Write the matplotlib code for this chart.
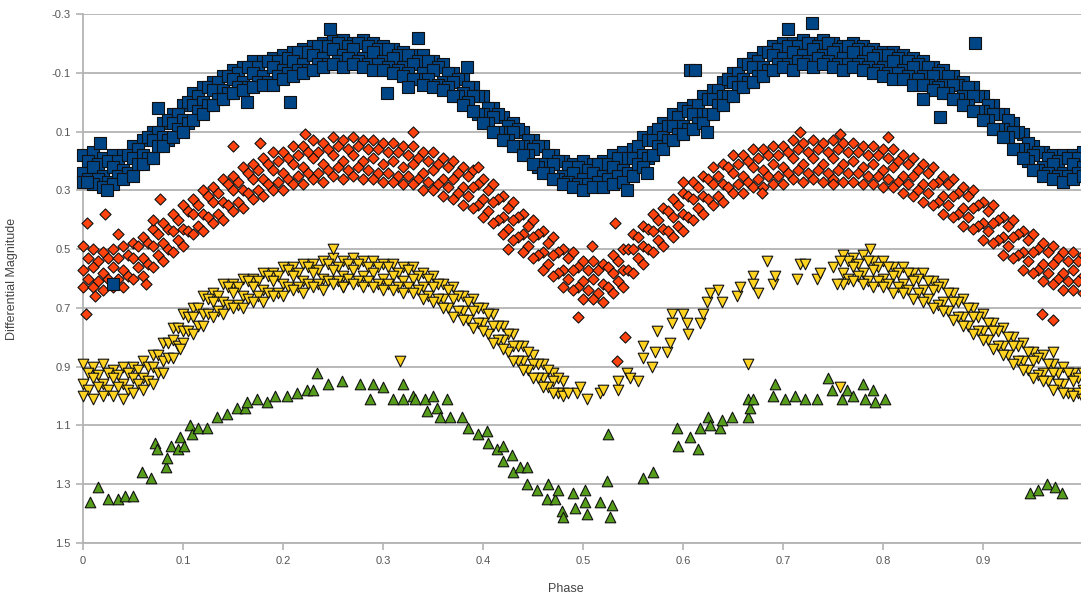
import matplotlib
matplotlib.use("Agg")
import matplotlib.pyplot as plt

plt.rcParams['font.family'] = ['Liberation Sans', 'DejaVu Sans']

# sampling phases used when reading the dense bands off the chart
phase_grid = [0.00, 0.01, 0.02, 0.03, 0.04, 0.05, 0.06, 0.07, 0.08, 0.09,
              0.10, 0.11, 0.12, 0.13, 0.14, 0.15, 0.16, 0.17, 0.18, 0.19,
              0.20, 0.21, 0.22, 0.23, 0.24, 0.25, 0.26, 0.27, 0.28, 0.29,
              0.30, 0.31, 0.32, 0.33, 0.34, 0.35, 0.36, 0.37, 0.38, 0.39,
              0.40, 0.41, 0.42, 0.43, 0.44, 0.45, 0.46, 0.47, 0.48, 0.49,
              0.50, 0.51, 0.52, 0.53, 0.54, 0.55, 0.56, 0.57, 0.58, 0.59,
              0.60, 0.61, 0.62, 0.63, 0.64, 0.65, 0.66, 0.67, 0.68, 0.69,
              0.70, 0.71, 0.72, 0.73, 0.74, 0.75, 0.76, 0.77, 0.78, 0.79,
              0.80, 0.81, 0.82, 0.83, 0.84, 0.85, 0.86, 0.87, 0.88, 0.89,
              0.90, 0.91, 0.92, 0.93, 0.94, 0.95, 0.96, 0.97, 0.98, 0.99,
              1.00]
half_grid = [0.005, 0.015, 0.025, 0.035, 0.045, 0.055, 0.065, 0.075, 0.085, 0.095,
             0.105, 0.115, 0.125, 0.135, 0.145, 0.155, 0.165, 0.175, 0.185, 0.195,
             0.205, 0.215, 0.225, 0.235, 0.245, 0.255, 0.265, 0.275, 0.285, 0.295,
             0.305, 0.315, 0.325, 0.335, 0.345, 0.355, 0.365, 0.375, 0.385, 0.395,
             0.405, 0.415, 0.425, 0.435, 0.445, 0.455, 0.465, 0.475, 0.485, 0.495,
             0.505, 0.515, 0.525, 0.535, 0.545, 0.555, 0.565, 0.575, 0.585, 0.595,
             0.605, 0.615, 0.625, 0.635, 0.645, 0.655, 0.665, 0.675, 0.685, 0.695,
             0.705, 0.715, 0.725, 0.735, 0.745, 0.755, 0.765, 0.775, 0.785, 0.795,
             0.805, 0.815, 0.825, 0.835, 0.845, 0.855, 0.865, 0.875, 0.885, 0.895,
             0.905, 0.915, 0.925, 0.935, 0.945, 0.955, 0.965, 0.975, 0.985, 0.995]

# ---- blue squares (rows: top / upper / center / lower / bottom of the band) ----
blue_top = [0.18, 0.17, 0.19, 0.18, 0.18, 0.15, 0.13, 0.10, 0.07, 0.04,
            0.01, -0.03, -0.05, -0.07, -0.09, -0.11, -0.12, -0.14, -0.14, -0.15,
            -0.16, -0.17, -0.18, -0.19, -0.20, -0.21, -0.21, -0.20, -0.21, -0.20,
            -0.19, -0.18, -0.17, -0.16, -0.16, -0.14, -0.13, -0.10, -0.08, -0.05,
            -0.02, 0.02, 0.05, 0.07, 0.10, 0.13, 0.15, 0.18, 0.20, 0.21,
            0.20, 0.21, 0.20, 0.18, 0.17, 0.16, 0.12, 0.10, 0.07, 0.04,
            0.02, 0.01, -0.02, -0.04, -0.07, -0.10, -0.13, -0.15, -0.17, -0.19,
            -0.20, -0.20, -0.21, -0.20, -0.21, -0.20, -0.19, -0.20, -0.19, -0.18,
            -0.17, -0.17, -0.16, -0.15, -0.14, -0.12, -0.11, -0.09, -0.07, -0.05,
            -0.02, 0.01, 0.04, 0.07, 0.11, 0.15, 0.17, 0.18, 0.18, 0.18,
            0.17]
blue_bot = [0.27, 0.28, 0.29, 0.28, 0.26, 0.25, 0.21, 0.19, 0.15, 0.12,
            0.10, 0.06, 0.04, 0.01, -0.01, -0.03, -0.04, -0.05, -0.06, -0.06,
            -0.08, -0.09, -0.10, -0.11, -0.12, -0.13, -0.12, -0.13, -0.12, -0.11,
            -0.11, -0.10, -0.09, -0.08, -0.06, -0.05, -0.04, -0.02, 0.01, 0.03,
            0.07, 0.10, 0.13, 0.15, 0.18, 0.21, 0.24, 0.26, 0.28, 0.29,
            0.30, 0.29, 0.29, 0.28, 0.27, 0.25, 0.22, 0.18, 0.16, 0.13,
            0.11, 0.09, 0.07, 0.04, 0.01, -0.02, -0.05, -0.07, -0.09, -0.11,
            -0.12, -0.11, -0.13, -0.12, -0.13, -0.12, -0.11, -0.12, -0.11, -0.10,
            -0.09, -0.08, -0.08, -0.06, -0.06, -0.04, -0.03, -0.01, 0.01, 0.03,
            0.06, 0.09, 0.12, 0.16, 0.19, 0.23, 0.25, 0.26, 0.27, 0.26,
            0.25]
blue_center = [0.24, 0.22, 0.25, 0.22, 0.23, 0.19, 0.18, 0.13, 0.12, 0.07,
               0.06, 0.01, 0.00, -0.04, -0.04, -0.08, -0.07, -0.10, -0.09, -0.12,
               -0.11, -0.14, -0.13, -0.16, -0.15, -0.18, -0.16, -0.18, -0.15, -0.17,
               -0.14, -0.15, -0.12, -0.13, -0.10, -0.11, -0.07, -0.07, -0.03, -0.02,
               0.04, 0.05, 0.10, 0.10, 0.15, 0.16, 0.21, 0.21, 0.25, 0.24,
               0.26, 0.24, 0.25, 0.22, 0.23, 0.19, 0.18, 0.13, 0.12, 0.08,
               0.08, 0.04, 0.04, -0.01, -0.02, -0.07, -0.08, -0.12, -0.12, -0.16,
               -0.15, -0.17, -0.16, -0.18, -0.16, -0.17, -0.15, -0.17, -0.14, -0.15,
               -0.12, -0.14, -0.11, -0.12, -0.09, -0.09, -0.06, -0.06, -0.02, -0.02,
               0.03, 0.04, 0.09, 0.10, 0.16, 0.18, 0.22, 0.21, 0.24, 0.21,
               0.22]
blue_upper = [0.20, 0.21, 0.20, 0.20, 0.18, 0.16, 0.12, 0.10, 0.06, 0.04,
              0.00, -0.02, -0.05, -0.07, -0.09, -0.10, -0.12, -0.12, -0.14, -0.14,
              -0.15, -0.17, -0.17, -0.19, -0.19, -0.20, -0.19, -0.20, -0.19, -0.18,
              -0.18, -0.16, -0.16, -0.14, -0.14, -0.12, -0.10, -0.08, -0.05, -0.02,
              0.02, 0.04, 0.08, 0.09, 0.13, 0.15, 0.18, 0.20, 0.22, 0.22,
              0.23, 0.21, 0.21, 0.19, 0.19, 0.15, 0.13, 0.09, 0.08, 0.05,
              0.03, 0.01, -0.01, -0.04, -0.08, -0.10, -0.13, -0.14, -0.17, -0.18,
              -0.19, -0.19, -0.20, -0.19, -0.20, -0.18, -0.19, -0.18, -0.17, -0.16,
              -0.16, -0.15, -0.14, -0.13, -0.12, -0.10, -0.09, -0.06, -0.05, -0.02,
              0.01, 0.04, 0.06, 0.10, 0.14, 0.17, 0.19, 0.20, 0.19, 0.19]
blue_lower = [0.26, 0.26, 0.27, 0.25, 0.24, 0.21, 0.19, 0.15, 0.13, 0.09,
              0.07, 0.03, 0.01, -0.01, -0.03, -0.05, -0.05, -0.07, -0.07, -0.09,
              -0.10, -0.11, -0.11, -0.13, -0.13, -0.14, -0.15, -0.14, -0.13, -0.13,
              -0.12, -0.11, -0.10, -0.08, -0.08, -0.06, -0.05, -0.02, 0.00, 0.04,
              0.07, 0.10, 0.13, 0.15, 0.18, 0.22, 0.24, 0.26, 0.27, 0.28,
              0.28, 0.27, 0.26, 0.25, 0.24, 0.21, 0.19, 0.15, 0.13, 0.11,
              0.09, 0.07, 0.04, 0.01, -0.02, -0.05, -0.07, -0.09, -0.11, -0.13,
              -0.13, -0.14, -0.14, -0.15, -0.14, -0.13, -0.13, -0.13, -0.12, -0.11,
              -0.10, -0.10, -0.09, -0.08, -0.06, -0.05, -0.03, -0.01, 0.01, 0.03,
              0.06, 0.09, 0.12, 0.16, 0.20, 0.23, 0.24, 0.25, 0.25, 0.24]
blue_extra_phase = [0.004, 0.017, 0.024, 0.075, 0.164, 0.207, 0.247, 0.304, 0.325,
                    0.335, 0.384, 0.544, 0.564, 0.607, 0.612, 0.624, 0.705, 0.729,
                    0.840, 0.857, 0.892, 0.030]
blue_extra_mag = [0.27, 0.14, 0.30, 0.02, 0.00, 0.00, -0.25, -0.03, -0.05,
                  -0.22, -0.12, 0.30, 0.24, -0.11, -0.11, 0.10, -0.25, -0.27,
                  -0.01, 0.05, -0.20, 0.62]

# ---- red diamonds ----
red_top = [0.49, 0.50, 0.51, 0.50, 0.49, 0.48, 0.46, 0.43, 0.41, 0.38,
           0.35, 0.33, 0.30, 0.29, 0.26, 0.25, 0.22, 0.21, 0.19, 0.17,
           0.17, 0.15, 0.15, 0.13, 0.14, 0.12, 0.13, 0.12, 0.13, 0.13,
           0.14, 0.14, 0.15, 0.15, 0.17, 0.17, 0.19, 0.20, 0.22, 0.23,
           0.26, 0.28, 0.32, 0.34, 0.38, 0.40, 0.44, 0.46, 0.50, 0.51,
           0.54, 0.54, 0.55, 0.52, 0.50, 0.45, 0.42, 0.38, 0.36, 0.33,
           0.31, 0.27, 0.25, 0.22, 0.21, 0.18, 0.18, 0.16, 0.16, 0.15,
           0.15, 0.13, 0.14, 0.13, 0.14, 0.13, 0.14, 0.14, 0.15, 0.15,
           0.16, 0.16, 0.18, 0.19, 0.21, 0.22, 0.25, 0.26, 0.29, 0.30,
           0.34, 0.35, 0.39, 0.40, 0.44, 0.45, 0.48, 0.49, 0.51, 0.51,
           0.52]
red_bot = [0.63, 0.63, 0.64, 0.63, 0.63, 0.60, 0.59, 0.56, 0.54, 0.51,
           0.49, 0.45, 0.44, 0.41, 0.40, 0.37, 0.36, 0.33, 0.32, 0.30,
           0.30, 0.28, 0.28, 0.26, 0.27, 0.25, 0.26, 0.25, 0.26, 0.26,
           0.27, 0.27, 0.28, 0.28, 0.30, 0.30, 0.32, 0.33, 0.35, 0.36,
           0.39, 0.41, 0.45, 0.47, 0.51, 0.53, 0.57, 0.59, 0.63, 0.64,
           0.67, 0.67, 0.68, 0.65, 0.63, 0.58, 0.55, 0.51, 0.49, 0.46,
           0.44, 0.40, 0.38, 0.35, 0.34, 0.31, 0.31, 0.29, 0.29, 0.28,
           0.28, 0.26, 0.27, 0.26, 0.27, 0.26, 0.27, 0.27, 0.28, 0.28,
           0.29, 0.29, 0.31, 0.32, 0.34, 0.35, 0.38, 0.39, 0.42, 0.43,
           0.47, 0.48, 0.52, 0.53, 0.57, 0.58, 0.61, 0.62, 0.64, 0.64,
           0.65]
red_center = [0.57, 0.56, 0.58, 0.56, 0.57, 0.53, 0.53, 0.49, 0.48, 0.44,
              0.43, 0.38, 0.38, 0.34, 0.34, 0.30, 0.30, 0.26, 0.26, 0.23,
              0.24, 0.21, 0.22, 0.19, 0.21, 0.18, 0.20, 0.18, 0.20, 0.19,
              0.21, 0.20, 0.22, 0.21, 0.24, 0.23, 0.26, 0.26, 0.29, 0.29,
              0.33, 0.34, 0.39, 0.40, 0.45, 0.46, 0.51, 0.52, 0.57, 0.57,
              0.61, 0.60, 0.62, 0.58, 0.57, 0.50, 0.49, 0.44, 0.43, 0.39,
              0.38, 0.33, 0.32, 0.28, 0.28, 0.24, 0.25, 0.22, 0.23, 0.21,
              0.22, 0.19, 0.21, 0.19, 0.21, 0.19, 0.21, 0.20, 0.22, 0.21,
              0.23, 0.22, 0.25, 0.25, 0.28, 0.28, 0.32, 0.32, 0.36, 0.36,
              0.41, 0.41, 0.46, 0.46, 0.51, 0.51, 0.55, 0.55, 0.58, 0.57,
              0.59]
red_upper = [0.53, 0.54, 0.53, 0.53, 0.52, 0.49, 0.48, 0.45, 0.43, 0.40,
             0.37, 0.35, 0.32, 0.31, 0.28, 0.27, 0.24, 0.23, 0.21, 0.20,
             0.19, 0.18, 0.17, 0.17, 0.16, 0.15, 0.16, 0.15, 0.16, 0.16,
             0.17, 0.17, 0.18, 0.19, 0.20, 0.21, 0.22, 0.24, 0.25, 0.28,
             0.30, 0.33, 0.36, 0.39, 0.42, 0.45, 0.48, 0.51, 0.53, 0.56,
             0.57, 0.57, 0.56, 0.54, 0.50, 0.46, 0.43, 0.40, 0.37, 0.35,
             0.32, 0.29, 0.26, 0.25, 0.22, 0.21, 0.20, 0.19, 0.18, 0.18,
             0.17, 0.16, 0.17, 0.16, 0.17, 0.16, 0.17, 0.17, 0.18, 0.18,
             0.19, 0.20, 0.21, 0.23, 0.24, 0.27, 0.28, 0.31, 0.32, 0.35,
             0.37, 0.40, 0.42, 0.45, 0.47, 0.50, 0.51, 0.53, 0.54, 0.54]
red_lower = [0.60, 0.61, 0.60, 0.60, 0.59, 0.56, 0.55, 0.52, 0.50, 0.47,
             0.44, 0.42, 0.39, 0.38, 0.35, 0.34, 0.31, 0.30, 0.28, 0.27,
             0.26, 0.25, 0.24, 0.24, 0.23, 0.22, 0.23, 0.22, 0.23, 0.24,
             0.24, 0.25, 0.25, 0.26, 0.27, 0.28, 0.29, 0.31, 0.32, 0.35,
             0.37, 0.40, 0.43, 0.46, 0.49, 0.52, 0.55, 0.58, 0.60, 0.63,
             0.64, 0.65, 0.63, 0.61, 0.57, 0.53, 0.50, 0.47, 0.44, 0.42,
             0.39, 0.36, 0.33, 0.32, 0.29, 0.28, 0.27, 0.26, 0.25, 0.25,
             0.24, 0.23, 0.24, 0.23, 0.24, 0.23, 0.24, 0.24, 0.25, 0.25,
             0.26, 0.27, 0.28, 0.30, 0.31, 0.34, 0.35, 0.38, 0.39, 0.42,
             0.44, 0.47, 0.49, 0.52, 0.54, 0.57, 0.58, 0.60, 0.61, 0.61]
red_extra_phase = [0.003, 0.004, 0.022, 0.063, 0.077, 0.070, 0.150, 0.177, 0.222,
                   0.330, 0.395, 0.425, 0.495, 0.509, 0.532, 0.542, 0.534, 0.600,
                   0.679, 0.717, 0.750, 0.757, 0.805, 0.959, 0.970, 0.012, 0.035]
red_extra_mag = [0.72, 0.41, 0.38, 0.62, 0.33, 0.40, 0.15, 0.14, 0.11,
                 0.10, 0.22, 0.50, 0.73, 0.49, 0.41, 0.80, 0.88, 0.27,
                 0.31, 0.10, 0.28, 0.11, 0.12, 0.72, 0.74, 0.66, 0.45]

# ---- yellow down-triangles: dense part a (0-0.48), dense part b (0.76-1) ----
yellow_phase_a = phase_grid[:49]
yellow_half_a = half_grid[:48]
yellow_phase_b = phase_grid[76:]
yellow_half_b = half_grid[76:]
yellow_top_a = [0.89, 0.90, 0.89, 0.91, 0.90, 0.90, 0.88, 0.86, 0.82, 0.77,
                0.72, 0.70, 0.66, 0.65, 0.62, 0.62, 0.60, 0.60, 0.58, 0.58,
                0.56, 0.56, 0.55, 0.55, 0.54, 0.53, 0.54, 0.53, 0.54, 0.54,
                0.55, 0.55, 0.56, 0.56, 0.58, 0.59, 0.62, 0.63, 0.66, 0.67,
                0.70, 0.72, 0.76, 0.79, 0.83, 0.86, 0.89, 0.92, 0.95]
yellow_bot_a = [1.00, 1.01, 1.00, 1.00, 1.01, 0.99, 0.98, 0.96, 0.92, 0.87,
                0.82, 0.79, 0.76, 0.73, 0.72, 0.70, 0.70, 0.68, 0.68, 0.66,
                0.66, 0.64, 0.65, 0.63, 0.64, 0.62, 0.63, 0.62, 0.63, 0.63,
                0.64, 0.64, 0.65, 0.65, 0.67, 0.68, 0.70, 0.73, 0.74, 0.77,
                0.78, 0.82, 0.84, 0.88, 0.91, 0.94, 0.97, 0.99, 1.00]
yellow_center_a = [0.96, 0.94, 0.96, 0.94, 0.96, 0.94, 0.94, 0.90, 0.88, 0.81,
                   0.78, 0.73, 0.72, 0.68, 0.68, 0.65, 0.66, 0.63, 0.64, 0.61,
                   0.62, 0.59, 0.61, 0.58, 0.60, 0.57, 0.59, 0.57, 0.59, 0.58,
                   0.60, 0.59, 0.61, 0.60, 0.63, 0.63, 0.67, 0.67, 0.71, 0.71,
                   0.75, 0.76, 0.81, 0.83, 0.88, 0.89, 0.94, 0.95, 0.99]
yellow_upper_a = [0.92, 0.93, 0.92, 0.93, 0.92, 0.91, 0.90, 0.86, 0.82, 0.77,
                  0.73, 0.70, 0.67, 0.66, 0.63, 0.63, 0.61, 0.61, 0.59, 0.59,
                  0.57, 0.58, 0.56, 0.57, 0.55, 0.56, 0.55, 0.55, 0.56, 0.56,
                  0.56, 0.58, 0.57, 0.59, 0.60, 0.62, 0.64, 0.66, 0.68, 0.70,
                  0.72, 0.76, 0.79, 0.83, 0.85, 0.89, 0.91, 0.94]
yellow_lower_a = [0.98, 0.97, 0.98, 0.97, 0.98, 0.96, 0.95, 0.92, 0.87, 0.83,
                  0.78, 0.76, 0.72, 0.71, 0.69, 0.69, 0.67, 0.66, 0.65, 0.65,
                  0.63, 0.63, 0.62, 0.62, 0.61, 0.61, 0.60, 0.61, 0.61, 0.62,
                  0.62, 0.63, 0.63, 0.64, 0.66, 0.67, 0.70, 0.71, 0.74, 0.75,
                  0.79, 0.81, 0.85, 0.88, 0.91, 0.94, 0.97, 0.99]
yellow_top_b = [0.52, 0.53, 0.52, 0.54, 0.54, 0.56, 0.56, 0.58, 0.58, 0.61,
                0.62, 0.65, 0.67, 0.70, 0.72, 0.75, 0.77, 0.80, 0.82, 0.85,
                0.86, 0.89, 0.90, 0.92, 0.92]
yellow_bot_b = [0.62, 0.61, 0.62, 0.63, 0.63, 0.65, 0.65, 0.67, 0.68, 0.70,
                0.71, 0.74, 0.76, 0.79, 0.81, 0.84, 0.86, 0.89, 0.91, 0.94,
                0.95, 0.98, 0.99, 1.00, 1.01]
yellow_center_b = [0.58, 0.56, 0.58, 0.57, 0.60, 0.59, 0.62, 0.61, 0.64, 0.64,
                   0.68, 0.68, 0.73, 0.73, 0.78, 0.78, 0.83, 0.83, 0.88, 0.88,
                   0.92, 0.92, 0.96, 0.95, 0.98]
yellow_upper_b = [0.54, 0.55, 0.54, 0.56, 0.56, 0.58, 0.58, 0.60, 0.61, 0.63,
                  0.65, 0.68, 0.70, 0.73, 0.75, 0.78, 0.80, 0.83, 0.85, 0.87,
                  0.89, 0.92, 0.92, 0.94]
yellow_lower_b = [0.60, 0.59, 0.61, 0.61, 0.62, 0.63, 0.64, 0.65, 0.67, 0.69,
                  0.71, 0.73, 0.76, 0.78, 0.81, 0.83, 0.86, 0.88, 0.91, 0.93,
                  0.95, 0.96, 0.99, 0.99]
yellow_extra_phase = [0.250, 0.260, 0.317, 0.097, 0.485, 0.494, 0.497, 0.504, 0.517, 0.520,
                      0.535, 0.535, 0.544, 0.547, 0.555, 0.560, 0.560, 0.569, 0.572, 0.574,
                      0.584, 0.587, 0.589, 0.589, 0.600, 0.604, 0.605, 0.617, 0.620, 0.624,
                      0.627, 0.635, 0.639, 0.654, 0.657, 0.665, 0.670, 0.670, 0.675, 0.684,
                      0.690, 0.692, 0.714, 0.717, 0.722, 0.734, 0.737, 0.750, 0.754, 0.757,
                      0.787, 0.970, 0.757]
yellow_extra_mag = [0.50, 0.63, 0.88, 0.84, 0.99, 0.99, 0.97, 1.01, 0.99, 0.98,
                    0.95, 0.98, 0.92, 0.94, 0.95, 0.87, 0.83, 0.90, 0.85, 0.78,
                    0.85, 0.82, 0.72, 0.75, 0.72, 0.75, 0.79, 0.75, 0.72, 0.68,
                    0.65, 0.64, 0.68, 0.66, 0.63, 0.89, 0.59, 0.62, 0.65, 0.54,
                    0.62, 0.59, 0.60, 0.55, 0.55, 0.60, 0.58, 0.56, 0.62, 0.54,
                    0.50, 0.85, 0.97]

# ---- green up-triangles ----
green_phase = [0.007, 0.015, 0.025, 0.035, 0.042, 0.050, 0.059, 0.068, 0.072, 0.074,
               0.083, 0.084, 0.088, 0.095, 0.097, 0.101, 0.107, 0.109, 0.115, 0.124,
               0.134, 0.144, 0.154, 0.162, 0.164, 0.174, 0.184, 0.192, 0.204, 0.214,
               0.224, 0.230, 0.234, 0.245, 0.259, 0.277, 0.287, 0.290, 0.300, 0.310,
               0.320, 0.320, 0.330, 0.332, 0.342, 0.344, 0.350, 0.354, 0.357, 0.364,
               0.367, 0.379, 0.385, 0.395, 0.404, 0.405, 0.414, 0.420, 0.420, 0.429,
               0.430, 0.437, 0.444, 0.444, 0.454, 0.464, 0.465, 0.472, 0.475, 0.479,
               0.480, 0.490, 0.492, 0.502, 0.502, 0.504, 0.517, 0.524, 0.525, 0.527,
               0.529, 0.560, 0.570, 0.594, 0.595, 0.607, 0.615, 0.617, 0.625, 0.627,
               0.637, 0.639, 0.649, 0.665, 0.665, 0.667, 0.670, 0.690, 0.692, 0.702,
               0.712, 0.722, 0.734, 0.745, 0.749, 0.759, 0.764, 0.770, 0.780, 0.782,
               0.790, 0.792, 0.802, 0.947, 0.955, 0.964, 0.972, 0.979]
green_mag = [1.36, 1.31, 1.35, 1.35, 1.34, 1.34, 1.26, 1.28, 1.16, 1.18,
             1.24, 1.21, 1.17, 1.18, 1.14, 1.17, 1.10, 1.13, 1.11, 1.11,
             1.07, 1.06, 1.04, 1.04, 1.02, 1.01, 1.02, 1.00, 1.00, 0.99,
             0.98, 0.98, 0.92, 0.96, 0.95, 0.96, 1.01, 0.96, 0.97, 1.01,
             0.96, 1.01, 1.00, 1.01, 1.01, 1.05, 1.00, 1.04, 1.07, 1.01,
             1.07, 1.07, 1.11, 1.13, 1.12, 1.16, 1.18, 1.17, 1.22, 1.20,
             1.26, 1.24, 1.24, 1.30, 1.32, 1.35, 1.30, 1.35, 1.32, 1.39,
             1.41, 1.33, 1.38, 1.32, 1.36, 1.40, 1.36, 1.29, 1.13, 1.41,
             1.37, 1.28, 1.26, 1.11, 1.17, 1.14, 1.18, 1.11, 1.07, 1.10,
             1.11, 1.08, 1.07, 1.07, 1.01, 1.04, 1.01, 1.00, 0.96, 1.01,
             1.00, 1.01, 1.01, 0.94, 0.98, 1.01, 0.98, 1.00, 0.96, 1.01,
             0.98, 1.02, 1.01, 1.33, 1.32, 1.30, 1.31, 1.33]

x_ticks = [0, 0.1, 0.2, 0.3, 0.4, 0.5, 0.6, 0.7, 0.8, 0.9, 1]
x_labels = ["0", "0.1", "0.2", "0.3", "0.4", "0.5", "0.6", "0.7", "0.8", "0.9", "1"]
y_ticks = [-0.3, -0.1, 0.1, 0.3, 0.5, 0.7, 0.9, 1.1, 1.3, 1.5]
y_labels = ["-0.3", "-0.1", "0.1", "0.3", "0.5", "0.7", "0.9", "1.1", "1.3", "1.5"]

fig = plt.figure(figsize=(10.81, 5.96), dpi=100)
ax = fig.add_axes([83 / 1081, 53 / 596, 1000 / 1081, 529 / 596])

edge = dict(edgecolors="#111111", linewidths=0.8, clip_on=False)

# green first, blue last (later series drawn on top)
ax.scatter(green_phase, green_mag, marker="^", s=58, c="#579d1c", zorder=3, **edge)

yel = dict(marker="v", s=58, c="#ffd320", zorder=4, **edge)
for xs, ys in [(yellow_phase_a, yellow_top_a), (yellow_half_a, yellow_upper_a),
               (yellow_phase_a, yellow_center_a), (yellow_half_a, yellow_lower_a),
               (yellow_phase_a, yellow_bot_a),
               (yellow_phase_b, yellow_top_b), (yellow_half_b, yellow_upper_b),
               (yellow_phase_b, yellow_center_b), (yellow_half_b, yellow_lower_b),
               (yellow_phase_b, yellow_bot_b),
               (yellow_extra_phase, yellow_extra_mag)]:
    ax.scatter(xs, ys, **yel)

red = dict(marker="D", s=32, c="#ff420e", zorder=5, **edge)
for xs, ys in [(phase_grid, red_top), (half_grid, red_upper), (phase_grid, red_center),
               (half_grid, red_lower), (phase_grid, red_bot),
               (red_extra_phase, red_extra_mag)]:
    ax.scatter(xs, ys, **red)

blue = dict(marker="s", s=68, c="#004586", zorder=6, **edge)
for xs, ys in [(phase_grid, blue_top), (half_grid, blue_upper), (phase_grid, blue_center),
               (half_grid, blue_lower), (phase_grid, blue_bot),
               (blue_extra_phase, blue_extra_mag)]:
    ax.scatter(xs, ys, **blue)

ax.set_xlim(0, 1)
ax.set_ylim(1.5, -0.3)
ax.set_xticks(x_ticks)
ax.set_xticklabels(x_labels)
ax.set_yticks(y_ticks)
ax.set_yticklabels(y_labels)

grid_col = "#b3b3b3"
ax.grid(axis="y", color=grid_col, linewidth=1.3)
ax.set_axisbelow(True)
for side in ["top", "right"]:
    ax.spines[side].set_visible(False)
for side in ["left", "bottom"]:
    ax.spines[side].set_color(grid_col)
    ax.spines[side].set_linewidth(1.3)
ax.tick_params(axis="both", colors=grid_col, labelcolor="#555555", labelsize=8,
               length=5, width=1.2, pad=4)

ax.set_xlabel("Phase", fontsize=9, color="#444444")
ax.set_ylabel("Differential Magnitude", fontsize=9, color="#444444")
ax.xaxis.set_label_coords(0.483, -0.075)
ax.yaxis.set_label_coords(-0.065, 0.5)

fig.savefig("out.png", dpi=100)
